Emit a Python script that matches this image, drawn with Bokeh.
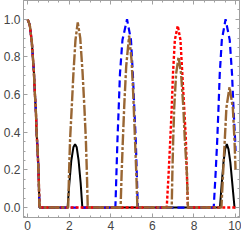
from bokeh.plotting import figure
from bokeh.models import LinearAxis, Range1d, FixedTicker, PrintfTickFormatter
from bokeh.embed import file_html
from bokeh.resources import INLINE

# shared initial decay (all four curves coincide)
start_x = [0, 0.1, 0.2, 0.25, 0.3, 0.35, 0.4, 0.43, 0.48, 0.52, 0.57]
start_y = [1.0, 0.97, 0.88, 0.8, 0.72, 0.6, 0.5, 0.4, 0.3, 0.2, 0.0]

black_x = start_x + [1.92, 2.0, 2.1, 2.2, 2.28, 2.36, 2.45, 2.55, 2.63,
                     9.25, 9.33, 9.42, 9.5, 9.58, 9.66, 9.75, 9.85, 9.95, 10.0]
black_y = start_y + [0.0, 0.12, 0.25, 0.32, 0.337, 0.32, 0.25, 0.13, 0.0,
                     0.0, 0.12, 0.24, 0.31, 0.337, 0.31, 0.24, 0.12, 0.0, 0.0]

blue_x = start_x + [4.22, 4.27, 4.32, 4.38, 4.44, 4.56, 4.78, 4.97, 5.06, 5.13, 5.2, 5.25, 5.3,
                    8.95, 9.04, 9.12, 9.18, 9.24, 9.34, 9.52, 9.72, 9.83, 9.9, 9.98, 10.0]
blue_y = start_y + [0.0, 0.18, 0.36, 0.53, 0.71, 0.89, 1.0, 0.89, 0.71, 0.53, 0.36, 0.18, 0.0,
                    0.0, 0.18, 0.36, 0.53, 0.71, 0.89, 1.0, 0.89, 0.71, 0.53, 0.36, 0.3]

red_x = start_x + [6.69, 6.78, 6.86, 6.93, 6.99, 7.08, 7.22, 7.35, 7.44, 7.53, 7.61, 7.66, 7.71, 10.0]
red_y = start_y + [0.0, 0.18, 0.36, 0.53, 0.71, 0.89, 0.966, 0.89, 0.71, 0.53, 0.36, 0.18, 0.0, 0.0]

brown_x = start_x + [1.95, 1.99, 2.04, 2.12, 2.2, 2.3, 2.41, 2.53, 2.64, 2.73, 2.8, 2.85, 2.89,
                     4.47, 4.52, 4.58, 4.65, 4.74, 4.88, 5.0, 5.08, 5.15, 5.22, 5.28,
                     6.93, 6.96, 7.0, 7.05, 7.14, 7.26, 7.38, 7.49, 7.56, 7.66, 7.71,
                     9.32, 9.4, 9.48, 9.56, 9.71, 9.87, 9.95, 10.0]
brown_y = start_y + [0.0, 0.18, 0.36, 0.53, 0.71, 0.89, 0.984, 0.9, 0.72, 0.53, 0.36, 0.18, 0.0,
                     0.0, 0.18, 0.36, 0.55, 0.75, 0.913, 0.78, 0.6, 0.4, 0.2, 0.0,
                     0.0, 0.18, 0.36, 0.53, 0.71, 0.80, 0.71, 0.53, 0.36, 0.18, 0.0,
                     0.0, 0.18, 0.355, 0.53, 0.64, 0.53, 0.355, 0.2]

x_ticks = [0, 2, 4, 6, 8, 10]
y_ticks = [0.0, 0.2, 0.4, 0.6, 0.8, 1.0]
x_minor = [i * 0.5 for i in range(-1, 22)]
y_minor = [i * 0.05 for i in range(-1, 23)]

frame_col = "#a0a0a0"
label_col = "#444444"

p = figure(width=241, height=232, output_backend="svg", toolbar_location=None,
           x_range=Range1d(-0.2, 10.19), y_range=Range1d(-0.053, 1.10),
           x_axis_location=None, y_axis_location=None,
           min_border_left=0, min_border_right=2, min_border_top=0, min_border_bottom=0)
p.grid.visible = False
p.outline_line_color = frame_col
p.background_fill_color = "white"
p.border_fill_color = "white"

for loc, ticks, minor, labels, fmt in [
        ("below", x_ticks, x_minor, True, "%d"),
        ("above", x_ticks, x_minor, False, "%d"),
        ("left", y_ticks, y_minor, True, "%.1f"),
        ("right", y_ticks, y_minor, False, "%.1f")]:
    ax = LinearAxis()
    ax.ticker = FixedTicker(ticks=ticks, minor_ticks=minor)
    ax.formatter = PrintfTickFormatter(format=fmt)
    ax.axis_line_color = frame_col
    ax.major_tick_line_color = frame_col
    ax.minor_tick_line_color = frame_col
    ax.major_tick_in = 4
    ax.major_tick_out = 0
    ax.minor_tick_in = 2
    ax.minor_tick_out = 0
    ax.major_label_text_color = label_col
    ax.major_label_text_font = "Liberation Sans"
    ax.major_label_text_font_size = "12px"
    if labels:
        ax.major_label_standoff = 3
    else:
        ax.major_label_standoff = 0
        ax.major_label_overrides = {t: "" for t in ticks}
    p.add_layout(ax, loc)

p.line(black_x, black_y, line_color="black", line_width=2)
p.line(blue_x, blue_y, line_color="#0000ff", line_width=2.2, line_dash="7 4")
p.line(red_x, red_y, line_color="#ff0000", line_width=2.4, line_dash="3 2")
p.line(brown_x, brown_y, line_color="#996633", line_width=2.4, line_dash="11 2 3 2")

open("out.html", "w").write(file_html(p, INLINE))
